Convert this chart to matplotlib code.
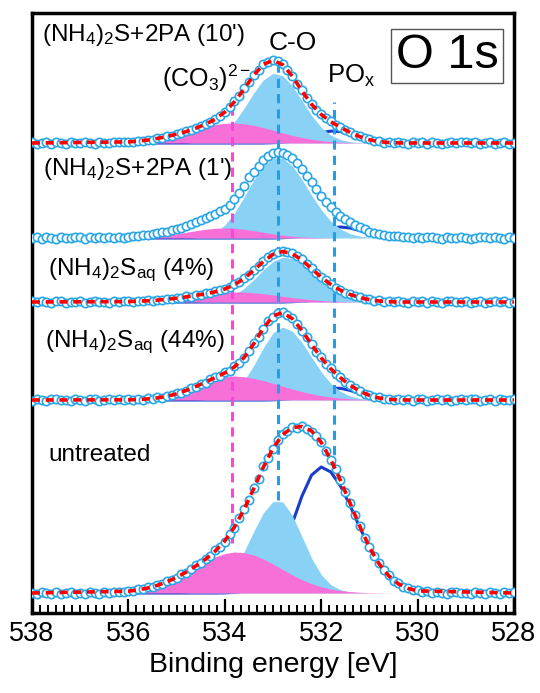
import numpy as np
import matplotlib.pyplot as plt
from matplotlib.ticker import MultipleLocator

plt.rcParams['font.family'] = ['Liberation Sans', 'DejaVu Sans']
plt.rcParams['mathtext.fontset'] = 'custom'
plt.rcParams['mathtext.rm'] = 'Liberation Sans'
plt.rcParams['mathtext.it'] = 'Liberation Sans:italic'
plt.rcParams['mathtext.bf'] = 'Liberation Sans:bold'

# measured points, 538 -> 528 eV every 0.1 eV
energy = np.round(np.arange(538.0, 527.95, -0.1), 1)

data_10 = [0.9, -0.5, 0.4, 1.2, -0.8, 0.6, 0.1, -1.0, 0.8, 0.3,
           -0.4, 1.1, 0.5, -0.7, 0.9, 0.2, -0.3, 1.3, 0.6, 1.0,
           1.5, 0.9, 2.3, 2.0, 3.4, 3.3, 5.0, 5.2, 6.9, 7.2,
           9.4, 9.8, 11.9, 12.6, 15.3, 16.6, 19.4, 21.0, 24.4, 27.0,
           31.5, 35.6, 41.8, 47.0, 54.6, 61.0, 68.3, 73.5, 78.9, 81.2,
           82.6, 81.7, 78.8, 73.0, 67.4, 59.3, 52.6, 45.0, 39.2, 33.0,
           29.0, 24.6, 21.8, 18.2, 16.5, 13.0, 11.2, 8.1, 6.9, 4.6,
           3.8, 2.0, 1.9, 0.4, 1.0, -0.3, 0.6, 0.2, -0.5, 0.7,
           0.3, 1.1, -0.6, 0.8, 0.2, -0.9, 0.5, 1.2, -0.4, 0.6,
           1.0, -0.2, 0.7, -0.8, 0.4, 1.1, -0.5, 0.3, 0.9, -0.6,
           0.5]
data_1 = [0.3, 1.0, -0.6, 0.8, 0.2, -0.9, 1.1, 0.4, -0.3, 0.7,
          1.2, -0.5, 0.6, 0.1, 0.9, -0.2, 1.3, 0.5, 0.8, 0.4,
          1.2, 1.8, 2.1, 2.9, 3.0, 4.2, 4.6, 5.8, 6.3, 7.9,
          8.6, 10.4, 11.9, 13.7, 15.6, 18.0, 19.8, 21.9, 24.3, 26.8,
          29.5, 33.4, 38.6, 45.2, 52.0, 60.8, 66.5, 72.4, 77.9, 81.6,
          84.8, 86.5, 85.3, 83.0, 79.6, 74.8, 69.2, 62.5, 56.3, 49.0,
          42.4, 36.1, 31.0, 26.3, 22.5, 19.1, 16.2, 13.0, 10.6, 8.8,
          6.5, 5.2, 4.0, 3.1, 2.5, 1.6, 1.8, 0.7, 1.1, 0.2,
          0.9, -0.4, 0.7, 1.2, 0.1, -0.6, 0.9, 0.4, -0.2, 1.0,
          0.5, -0.8, 0.3, 1.1, 0.6, -0.3, 0.8, 0.2, -0.7, 0.9,
          0.3]
data_4 = [0.7, -0.4, 1.0, 0.2, -0.9, 0.6, 1.2, -0.5, 0.3, -0.1,
          0.9, -0.7, 0.4, 1.1, -0.3, 0.5, -1.0, 0.8, 0.2, 0.6,
          0.9, 0.1, 1.3, 0.6, 1.8, 1.1, 2.4, 1.9, 3.3, 2.8,
          4.4, 4.1, 5.8, 5.4, 7.2, 7.0, 8.9, 9.1, 10.8, 11.6,
          13.5, 15.0, 17.6, 20.4, 23.9, 27.3, 32.2, 35.9, 40.8, 44.6,
          47.9, 50.0, 51.2, 50.3, 48.8, 45.9, 42.6, 38.0, 34.1, 29.3,
          25.0, 21.6, 17.9, 14.2, 12.3, 9.4, 8.0, 5.6, 5.0, 3.1,
          2.9, 1.2, 1.6, 0.2, 0.9, -0.4, 0.7, 0.2, -0.6, 0.8,
          0.1, 0.9, -0.5, 1.2, 0.3, -0.8, 0.6, 1.0, -0.2, 0.4,
          1.1, -0.6, 0.2, 0.8, -0.9, 0.5, 1.3, -0.3, 0.6, -0.7,
          0.4]
data_44 = [-0.6, 0.9, 0.2, -1.1, 0.7, 1.3, -0.3, 0.5, -0.9, 0.8,
           0.1, -0.5, 1.2, 0.6, -1.0, 0.3, 0.9, -0.4, 0.7, 0.2,
           0.8, -0.3, 1.1, 0.4, 1.9, 1.2, 2.8, 2.5, 4.3, 4.6,
           6.9, 7.4, 9.1, 11.8, 13.0, 16.2, 17.4, 20.6, 22.9, 24.1,
           27.8, 29.5, 33.9, 37.0, 42.0, 49.3, 56.9, 63.5, 71.0, 78.8,
           83.5, 86.9, 88.0, 85.2, 81.9, 75.6, 69.0, 62.8, 56.1, 48.2,
           42.9, 36.0, 31.8, 25.9, 22.7, 18.1, 15.2, 11.6, 9.4, 6.3,
           5.1, 3.0, 2.6, 0.9, 1.4, -0.2, 0.9, 0.1, 1.0, -0.5,
           0.6, 1.1, -0.7, 0.4, 0.9, -0.2, 1.2, -0.9, 0.3, 0.8,
           -0.4, 0.6, 1.0, -0.8, 0.2, 0.7, -0.6, 1.3, 0.1, -0.2,
           0.9]
data_u = [0.5, -0.8, 1.2, 0.3, -0.5, 0.9, -1.0, 0.4, 1.1, -0.6,
          0.2, -1.2, 0.8, 0.1, -0.7, 1.0, -0.4, 0.6, 1.5, 0.9,
          2.4, 2.0, 3.9, 3.6, 5.8, 6.1, 8.3, 9.0, 11.9, 13.0,
          15.1, 18.8, 20.2, 24.5, 27.9, 29.6, 34.5, 37.0, 42.6, 46.5,
          51.2, 59.4, 65.3, 75.0, 84.4, 93.1, 105.2, 114.0, 126.6, 135.2,
          143.9, 152.8, 159.1, 162.0, 166.2, 165.0, 167.3, 163.9, 161.4, 157.0,
          151.5, 141.8, 132.6, 123.9, 113.1, 100.8, 90.4, 77.9, 67.2, 55.0,
          46.3, 36.8, 29.9, 22.6, 17.9, 12.4, 9.8, 6.1, 5.2, 2.9,
          2.8, 0.8, 1.6, -0.4, 1.2, 0.3, -0.9, 0.7, 1.3, -0.2,
          0.5, -1.1, 0.9, 0.2, -0.6, 1.0, 0.4, -0.8, 0.6, -0.3,
          0.7]

# fitted components, 536 -> 530 eV every 0.2 eV
comp_energy = np.round(np.arange(536.0, 529.95, -0.2), 1)

co3_10 = [1.1, 1.9, 3.0, 4.6, 6.4, 8.9, 11.4, 14.1, 16.6, 18.5, 19.7, 20.0, 19.2, 17.7, 15.4, 12.8,
          10.1, 7.7, 5.4, 3.8, 2.4, 1.4, 0.9, 0.4, 0.2, 0.1, 0, 0, 0, 0, 0]
co_10 = [0, 0, 0, 0, 0, 0, 0, 0.8, 2.2, 5.3, 11.3, 21.2, 34.8, 50.1, 63.1, 69.7,
         67.4, 57.2, 42.5, 27.6, 15.8, 7.9, 3.4, 1.3, 0.4, 0.1, 0, 0, 0, 0, 0]
pox_10 = [0, 0, 0, 0, 0, 0, 0, 0, 0, 0, 0, 0, 0, 0, 0, 0.3,
          0.8, 2.0, 4.2, 7.3, 10.3, 11.9, 11.4, 8.9, 5.7, 3.0, 1.3, 0.5, 0.1, 0, 0]

co3_1 = [0.3, 0.6, 1.0, 1.8, 2.8, 4.1, 5.7, 7.3, 8.7, 9.7, 10.0, 9.7, 8.7, 7.3, 5.7, 4.1,
         2.8, 1.8, 1.0, 0.6, 0.3, 0.1, 0, 0, 0, 0, 0, 0, 0, 0, 0]
co_1 = [0, 0, 0, 0, 0, 0, 0, 0.3, 1.5, 5.5, 13.0, 25.0, 41.0, 58.0, 72.0, 80.0,
        80.0, 72.1, 58.5, 42.8, 28.3, 16.8, 9.0, 4.3, 1.9, 0.7, 0.2, 0, 0, 0, 0]
pox_1 = [0, 0, 0, 0, 0, 0, 0, 0, 0, 0, 0, 0, 0, 0, 0, 0,
         0.3, 0.9, 2.3, 4.5, 7.4, 10.0, 11.0, 10.0, 7.4, 4.5, 2.3, 0.9, 0.3, 0, 0]

co3_4 = [0.4, 0.8, 1.2, 1.9, 2.7, 3.8, 5.1, 6.4, 7.7, 8.8, 9.6, 10.0, 9.9, 9.3, 8.3, 7.1,
         5.7, 4.4, 3.2, 2.3, 1.5, 1.0, 0.6, 0.3, 0.2, 0.1, 0, 0, 0, 0, 0]
co_4 = [0, 0, 0, 0, 0, 0, 0, 0.2, 0.5, 1.4, 3.4, 7.3, 13.6, 22.4, 32.2, 40.6,
        44.8, 43.6, 37.9, 29.6, 20.6, 12.9, 7.2, 3.6, 1.6, 0.6, 0.2, 0, 0, 0, 0]
pox_4 = [0, 0, 0, 0, 0, 0, 0, 0, 0, 0, 0, 0, 0, 0, 0, 0,
         0, 0.3, 0.8, 1.6, 2.7, 3.6, 4.0, 3.6, 2.7, 1.6, 0.8, 0.3, 0, 0, 0]

co3_44 = [0.2, 0.5, 1.1, 2.1, 3.7, 6.2, 9.6, 13.5, 17.6, 21.2, 23.5, 24.0, 23.3, 21.7, 19.4, 16.7,
          13.8, 11.0, 8.4, 6.2, 4.3, 2.9, 1.9, 1.2, 0.7, 0.4, 0.2, 0, 0, 0, 0]
co_44 = [0, 0, 0, 0, 0, 0, 0, 0, 0.4, 1.2, 3.6, 9.1, 19.2, 34.5, 52.3, 67.2,
         73.0, 68.8, 57.6, 42.8, 28.2, 16.5, 8.6, 4.0, 1.6, 0.6, 0.2, 0, 0, 0, 0]
pox_44 = [0, 0, 0, 0, 0, 0, 0, 0, 0, 0, 0, 0, 0, 0, 0, 0.2,
          0.6, 1.6, 3.6, 6.5, 9.6, 11.7, 11.7, 9.6, 6.5, 3.6, 1.6, 0.6, 0.2, 0, 0]

co3_u = [1.8, 3.1, 5.0, 7.6, 11.2, 15.6, 20.8, 26.3, 31.6, 36.2, 39.4, 41.0, 40.4, 38.0, 34.0, 29.0,
         23.5, 18.1, 13.3, 9.3, 6.2, 3.9, 2.4, 1.4, 0.7, 0.4, 0.2, 0.1, 0, 0, 0]
co_u = [0, 0, 0, 0, 0, 0, 0.2, 0.8, 2.2, 5.7, 12.6, 24.4, 41.4, 61.5, 80.2, 91.5,
        91.2, 77.7, 56.4, 34.9, 18.4, 8.3, 3.2, 1.0, 0.3, 0, 0, 0, 0, 0, 0]
pox_u = [0, 0, 0, 0, 0, 0, 0, 0, 0, 0, 0.1, 0.6, 1.8, 4.9, 11.7, 24.1,
         43.7, 69.5, 96.8, 117.9, 126.0, 121.0, 107.0, 87.3, 65.6, 45.4, 29.0, 17.1, 9.2, 4.6, 2.1]

sample_labels = [r"(NH$_4$)$_2$S+2PA (10')", r"(NH$_4$)$_2$S+2PA (1')",
                 r"(NH$_4$)$_2$S$_{\mathrm{aq}}$ (4%)", r"(NH$_4$)$_2$S$_{\mathrm{aq}}$ (44%)",
                 "untreated"]
peak_names = [r"(CO$_3$)$^{2-}$", "C-O", r"PO$_\mathrm{x}$"]
peak_energy = [533.85, 532.9, 531.73]

spectra = [data_10, data_1, data_4, data_44, data_u]
co3 = [co3_10, co3_1, co3_4, co3_44, co3_u]
co = [co_10, co_1, co_4, co_44, co_u]
pox = [pox_10, pox_1, pox_4, pox_44, pox_u]
has_fit = [True, False, True, True, True]

# vertical stacking and label placement
offsets = [470, 375, 311, 213, 20]
label_y = [572, 438, 338, 266, 152]
label_x = [537.79, 537.77, 537.67, 537.73, 537.67]

fig = plt.figure(figsize=(5.4, 6.93), dpi=100)
ax = fig.add_axes([32 / 540, 80 / 693, 482 / 540, 600 / 693])

pink = '#f770d8'
cyan = '#8ad1f6'
dark_blue = '#1a3cc8'
circ = '#2aa6e6'
vcol = '#1ea0e8'

for i in range(5):
    off = offsets[i]
    m = np.array(co3[i])
    c = np.array(co[i])
    b = np.array(pox[i])
    ax.plot(comp_energy, off + b, color=dark_blue, lw=2.2, zorder=2)
    ax.fill_between(comp_energy, off, off + c, color=cyan, lw=0, zorder=3)
    ax.fill_between(comp_energy, off, off + m, color=pink, lw=0, zorder=4)
    ax.plot(energy, off + np.array(spectra[i]), 'o', ms=6, mfc='white',
            mec=circ, mew=1.2, zorder=6)
    if has_fit[i]:
        fit = np.r_[0, m + c + b, 0]
        fit_e = np.r_[538.0, comp_energy, 528.0]
        ax.plot(fit_e, off + fit, color='red', lw=2.6, ls=(0, (2.2, 1.6)), zorder=7)
    ax.text(label_x[i], label_y[i], sample_labels[i], fontsize=17.5, ha='left', va='baseline')

# reference lines for the components
ax.plot([peak_energy[0]] * 2, [70, 516], color='#ff44dd', lw=2.2, ls=(0, (3, 2)), zorder=5)
ax.plot([peak_energy[1]] * 2, [113, 555], color=vcol, lw=2.2, ls=(0, (3, 2)), zorder=5)
ax.plot([peak_energy[2]] * 2, [143, 511], color=vcol, lw=2.2, ls=(0, (3, 2)), zorder=5)

ax.text(535.3, 526, peak_names[0], fontsize=18, ha='left', va='baseline')
ax.text(532.6, 563, peak_names[1], fontsize=19, ha='center', va='baseline')
ax.text(531.88, 530, peak_names[2], fontsize=18.5, ha='left', va='baseline')

ax.text(529.39, 557, 'O 1s', fontsize=35, ha='center', va='center',
        bbox=dict(boxstyle='square,pad=0.1', fc='white', ec='#555555', lw=1))

ax.set_xlim(538, 528)
ax.set_ylim(0, 600)
ax.set_yticks([])
ax.xaxis.set_major_locator(MultipleLocator(2))
ax.xaxis.set_minor_locator(MultipleLocator(1 / 6))
ax.tick_params(axis='x', which='major', direction='in', length=10, width=1.6,
               labelsize=19.5, pad=6)
ax.tick_params(axis='x', which='minor', direction='in', length=6, width=1.4)
for s in ax.spines.values():
    s.set_linewidth(2.5)
ax.set_xlabel('Binding energy [eV]', fontsize=20.5, labelpad=3)

fig.savefig('out.png', dpi=100)
